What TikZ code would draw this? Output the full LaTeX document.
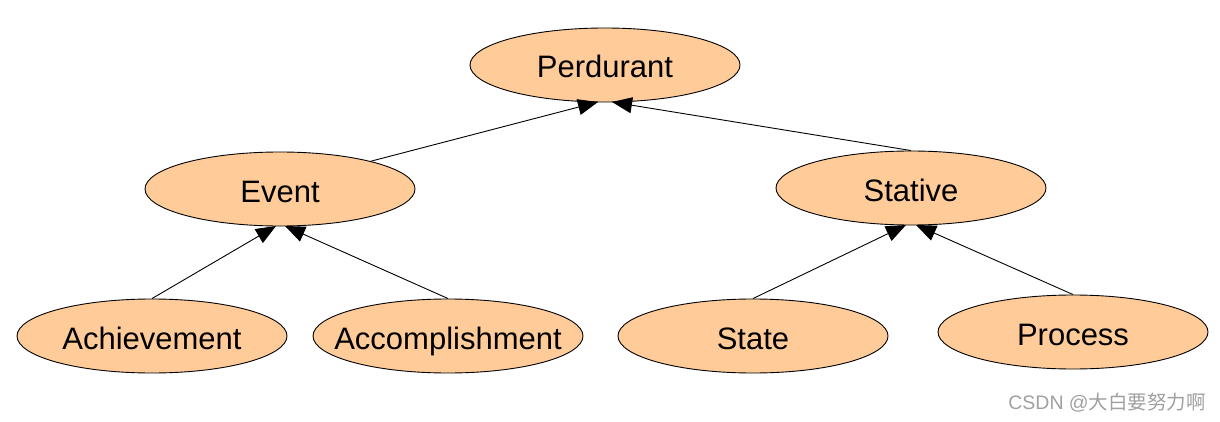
\documentclass[tikz,border=0pt]{standalone}
\usepackage{fontspec}
\setmainfont{Liberation Sans}
\newfontfamily\cjkfont{Noto Sans CJK SC}
\usetikzlibrary{shapes.geometric,arrows.meta}
\definecolor{peach}{RGB}{255,204,153}
\definecolor{wmgray}{RGB}{160,160,160}
\newcommand{\clstext}[1]{\makebox[0pt]{#1}}
\begin{document}
\begin{tikzpicture}[x=1pt,y=-1pt,
  cls/.style={ellipse,draw=black,line width=0.9pt,fill=peach,
    minimum width=270pt,minimum height=74pt,inner sep=0pt,
    text height=26pt,text depth=0pt,
    font=\fontsize{31}{36}\selectfont},
  isa/.style={draw=black,line width=0.9pt,-{Triangle[length=20pt,width=16pt]}}]
\useasboundingbox (0,0) rectangle (1220,422);
\node[cls] (perdurant) at (605,65) {\clstext{Perdurant}};
\node[cls] (event) at (280,189) {\clstext{Event}};
\node[cls] (stative) at (911,188) {\clstext{Stative}};
\node[cls] (ach) at (152,336) {\clstext{Achievement}};
\node[cls] (acc) at (448,336) {\clstext{Accomplishment}};
\node[cls] (state) at (753,336) {\clstext{State}};
\node[cls] (process) at (1073,332) {\clstext{Process}};
\coordinate (pL) at (598,102);
\coordinate (pR) at (612,102);
\coordinate (eL) at (276,226);
\coordinate (eR) at (285,226);
\coordinate (sL) at (906,225);
\coordinate (sR) at (916,225);
\draw[isa] (event.17) -- (pL);
\draw[isa] (stative.north) -- (pR);
\draw[isa] (ach.north) -- (eL);
\draw[isa] (acc.north) -- (eR);
\draw[isa] (state.north) -- (sL);
\draw[isa] (process.north) -- (sR);
\node[anchor=east,text=wmgray,font=\fontsize{19.5}{22}\selectfont,inner sep=0pt] (wm) at (1206,403) {CSDN @{\cjkfont 大白要努力啊}};
\end{tikzpicture}
\end{document}
